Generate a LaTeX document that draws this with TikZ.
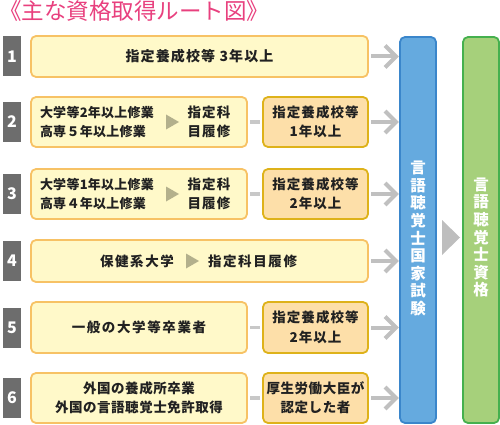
\documentclass[tikz,border=0pt]{standalone}
\usepackage{fontspec}
\setmainfont{Noto Sans CJK JP}
\newfontfamily\lsA{Noto Sans CJK JP}[LetterSpace=8]
\newfontfamily\lsB{Noto Sans CJK JP}[LetterSpace=12]
\newfontfamily\lsC{Noto Sans CJK JP}[LetterSpace=4]
\newfontfamily\lsD{Noto Sans CJK JP}[LetterSpace=2]
\usetikzlibrary{calc}
\begin{document}
\begin{tikzpicture}[x=1pt,y=-1pt,
  every node/.style={inner sep=0pt,outer sep=0pt,text=black!87,align=center,font=\lsA\fontsize{13.5}{19.5}\selectfont\bfseries},
  ybox/.style={draw=boxedge,fill=boxfill,line width=1.8pt,rounded corners=5pt},
  obox/.style={draw=oedge,fill=ofill,line width=1.8pt,rounded corners=5pt,minimum width=105pt,minimum height=50pt},
  numbox/.style={fill=numgray,minimum width=18pt,minimum height=40pt,text=white,font=\fontsize{16}{16}\selectfont\bfseries},
  chev/.style={draw=arrowgray,line width=4pt},
  dashc/.style={draw=dashgray,line width=3.5pt},
  vbox/.style={line width=1.8pt,rounded corners=5pt,minimum width=36pt,minimum height=386pt},
  vtext/.style={text=white,font=\fontsize{15.5}{17.6}\selectfont\bfseries},
  small/.style={font=\lsD\fontsize{13}{19.5}\selectfont\bfseries},
  wide/.style={font=\lsB\fontsize{13.5}{19.5}\selectfont\bfseries},
  mid/.style={font=\lsC\fontsize{13.5}{19.5}\selectfont\bfseries}
]
\definecolor{boxedge}{HTML}{F7C265}
\definecolor{boxfill}{HTML}{FFF9C9}
\definecolor{oedge}{HTML}{DEB21A}
\definecolor{ofill}{HTML}{FDDFA9}
\definecolor{numgray}{HTML}{6D6D6D}
\definecolor{arrowgray}{HTML}{C0C0C0}
\definecolor{dashgray}{HTML}{C8C8C8}
\definecolor{trigray}{HTML}{B3B08C}
\definecolor{bigtri}{HTML}{BEBEBE}
\definecolor{bluefill}{HTML}{65AADF}
\definecolor{blueedge}{HTML}{3A86CB}
\definecolor{greenfill}{HTML}{A6D07B}
\definecolor{greenedge}{HTML}{45B04E}
\definecolor{titlepink}{HTML}{E8407E}
\useasboundingbox (0,0) rectangle (500,425);

\node[anchor=base west,text=titlepink,font=\fontsize{22.5}{22.5}\selectfont] (title) at (-1,20) {《主な資格取得ルート図》};

% final boxes
\node[vbox,draw=blueedge,fill=bluefill] (exam) at (418,230) {};
\node[vtext] (examt) at (418,238.5) {言\\語\\聴\\覚\\士\\国\\家\\試\\験};
\node[vbox,draw=greenedge,fill=greenfill] (qual) at (481,230) {};
\node[vtext] (qualt) at (481,237.5) {言\\語\\聴\\覚\\士\\資\\格};
\coordinate (bt) at (442,220);
\coordinate (bb) at (442,255);
\coordinate (bp) at (460,237.5);
\fill[bigtri] (bt) -- (bp) -- (bb) -- cycle;

% number boxes
\node[numbox] (n1) at (12,56.5) {1};
\node[numbox] (n2) at (12,122) {2};
\node[numbox] (n3) at (12,194) {3};
\node[numbox] (n4) at (12,261) {4};
\node[numbox] (n5) at (12,327.5) {5};
\node[numbox] (n6) at (12,398) {6};

% row 1
\node[ybox,minimum width=337pt,minimum height=41pt,font=\lsA\fontsize{14}{19.5}\selectfont\bfseries] (r1) at (199.5,56.5) {指定養成校等 3年以上};
% row 2
\node[ybox,minimum width=216pt,minimum height=50pt] (r2) at (139,122) {};
\node[small,anchor=west,align=left] (r2a) at (40,122) {大学等2年以上修業\\高専５年以上修業};
\node (r2b) at (209,122) {指定科\\目履修};
\coordinate (t2) at (166,122);
\fill[trigray] ($(t2)+(0,-7.5)$) -- ($(t2)+(13,0)$) -- ($(t2)+(0,7.5)$) -- cycle;
\node[obox] (o2) at (315.5,122) {指定養成校等\\1年以上};
% row 3
\node[ybox,minimum width=216pt,minimum height=50pt] (r3) at (139,194) {};
\node[small,anchor=west,align=left] (r3a) at (40,194) {大学等1年以上修業\\高専４年以上修業};
\node (r3b) at (209,194) {指定科\\目履修};
\coordinate (t3) at (166,194);
\fill[trigray] ($(t3)+(0,-7.5)$) -- ($(t3)+(13,0)$) -- ($(t3)+(0,7.5)$) -- cycle;
\node[obox] (o3) at (315.5,194) {指定養成校等\\2年以上};
% row 4
\node[ybox,minimum width=337pt,minimum height=42pt] (r4) at (199.5,261) {};
\node[wide,anchor=west] (r4a) at (100,261) {保健系大学};
\coordinate (t4) at (186,261);
\fill[trigray] ($(t4)+(0,-7.5)$) -- ($(t4)+(13,0)$) -- ($(t4)+(0,7.5)$) -- cycle;
\node[wide,anchor=west] (r4b) at (208,261) {指定科目履修};
% row 5
\node[ybox,wide,minimum width=216pt,minimum height=51pt] (r5) at (139,327.5) {一般の大学等卒業者};
\node[obox,minimum height=51pt] (o5) at (315.5,327.5) {指定養成校等\\2年以上};
% row 6
\node[ybox,mid,minimum width=216pt,minimum height=50pt] (r6) at (139,398) {外国の養成所卒業\\外国の言語聴覚士免許取得};
\node[obox,mid] (o6) at (315.5,398) {厚生労働大臣が\\認定した者};

% dashes between boxes
\foreach \a/\b in {r2/o2,r3/o3,r5/o5,r6/o6}{
  \draw[dashc] ($(\a.east)+(3,0)$) -- ($(\b.west)+(-3,0)$);
}
% chevrons to exam
\foreach \s in {r1,o2,o3,r4,o5,o6}{
  \draw[chev] ($(\s.east)+(3,0)$) -- ($(\s.east)+(25,0)$);
  \draw[chev,line join=miter] ($(\s.east)+(17,-11)$) -- ($(\s.east)+(28,0)$) -- ($(\s.east)+(17,11)$);
}
\end{tikzpicture}
\end{document}
